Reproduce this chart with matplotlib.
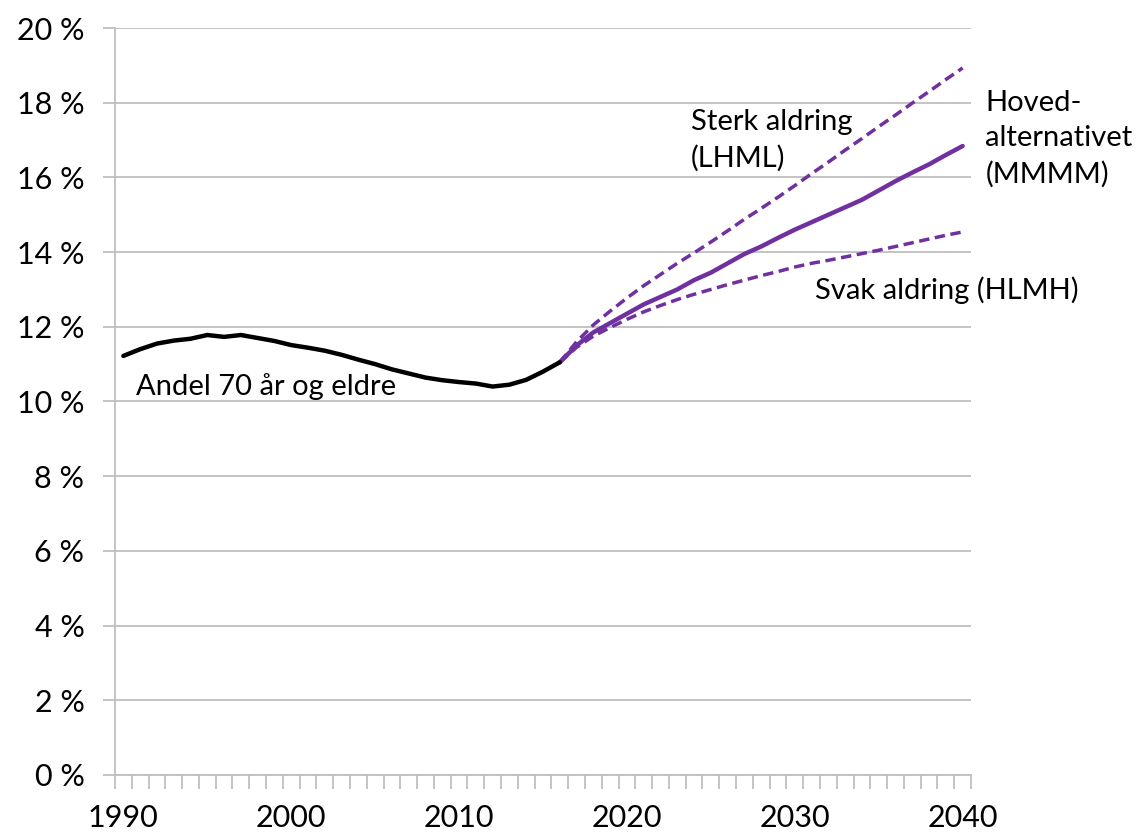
import matplotlib
matplotlib.use("Agg")
import matplotlib.pyplot as plt
from matplotlib.ticker import FixedLocator, FuncFormatter

plt.rcParams['font.family'] = ['Lato', 'DejaVu Sans']

# historical share of population aged 70+ (percent)
hist_years = list(range(1990, 2017))
hist_share = [11.22, 11.40, 11.55, 11.63, 11.68, 11.78, 11.73, 11.78, 11.70, 11.62,
              11.51, 11.44, 11.36, 11.25, 11.12, 11.00, 10.86, 10.75, 10.64, 10.57,
              10.52, 10.48, 10.40, 10.45, 10.58, 10.80, 11.05]

# projections 2016-2040
proj_years = list(range(2016, 2041))
main_mmmm = [11.05, 11.50, 11.85, 12.10, 12.35, 12.60, 12.80, 13.00, 13.25, 13.45,
             13.70, 13.95, 14.15, 14.38, 14.60, 14.80, 15.00, 15.20, 15.40, 15.65,
             15.90, 16.13, 16.35, 16.60, 16.84]
strong_lhml = [11.05, 11.60, 12.05, 12.42, 12.77, 13.10, 13.40, 13.70, 13.98, 14.27,
               14.57, 14.88, 15.17, 15.47, 15.78, 16.10, 16.41, 16.73, 17.04, 17.36,
               17.67, 17.99, 18.30, 18.62, 18.93]
weak_hlmh = [11.05, 11.45, 11.75, 11.98, 12.20, 12.40, 12.57, 12.73, 12.87, 13.00,
             13.13, 13.25, 13.37, 13.48, 13.60, 13.70, 13.78, 13.87, 13.96, 14.05,
             14.15, 14.25, 14.35, 14.45, 14.54]

y_ticks = [0, 2, 4, 6, 8, 10, 12, 14, 16, 18, 20]
x_labels = [1990, 2000, 2010, 2020, 2030, 2040]

purple = '#7030A0'
grid_col = '#BFBFBF'

fig = plt.figure(figsize=(11.44, 8.36), dpi=100)
ax = fig.add_axes([0.1005, 0.073, 0.7483, 0.8935])

ax.plot(proj_years, strong_lhml, color=purple, lw=2.5, dashes=(3, 1.6))
ax.plot(proj_years, weak_hlmh, color=purple, lw=2.5, dashes=(3, 1.6))
ax.plot(proj_years, main_mmmm, color=purple, lw=3.2, solid_capstyle='round')
ax.plot(hist_years, hist_share, color='black', lw=3.2, solid_capstyle='round')

ax.set_xlim(1989.5, 2040.5)
ax.set_ylim(0, 20)

# y axis: gridlines + percent labels
ax.set_yticks(y_ticks)
ax.yaxis.set_major_formatter(FuncFormatter(lambda v, p: f"{int(v)} %"))
ax.grid(axis='y', color=grid_col, lw=1.3)
ax.tick_params(axis='y', length=9, color=grid_col, width=1.3, labelsize=22, pad=13)

# x axis: yearly ticks at category borders, labels every 10 years
ax.xaxis.set_major_locator(FixedLocator(x_labels))
ax.xaxis.set_minor_locator(FixedLocator([1989.5 + i for i in range(52)]))
ax.tick_params(axis='x', which='major', length=0, labelsize=22, pad=21)
ax.tick_params(axis='x', which='minor', length=10, color=grid_col, width=1.3)

for s in ['top', 'right']:
    ax.spines[s].set_visible(False)
for s in ['left', 'bottom']:
    ax.spines[s].set_color(grid_col)
    ax.spines[s].set_linewidth(1.3)
ax.set_axisbelow(True)

ax.text(1990.75, 10.39, "Andel 70 år og eldre", fontsize=21, va='center', ha='left')
ax.text(2023.8, 17.0, "Sterk aldring\n(LHML)", fontsize=21, va='center', ha='left',
        linespacing=1.45)
ax.text(2041.35, 17.03, "Hoved-\nalternativet\n(MMMM)", fontsize=21, va='center',
        ha='left', linespacing=1.45, clip_on=False)
ax.text(2031.2, 12.99, "Svak aldring (HLMH)", fontsize=21, va='center', ha='left')

fig.savefig("out.png", dpi=100)
